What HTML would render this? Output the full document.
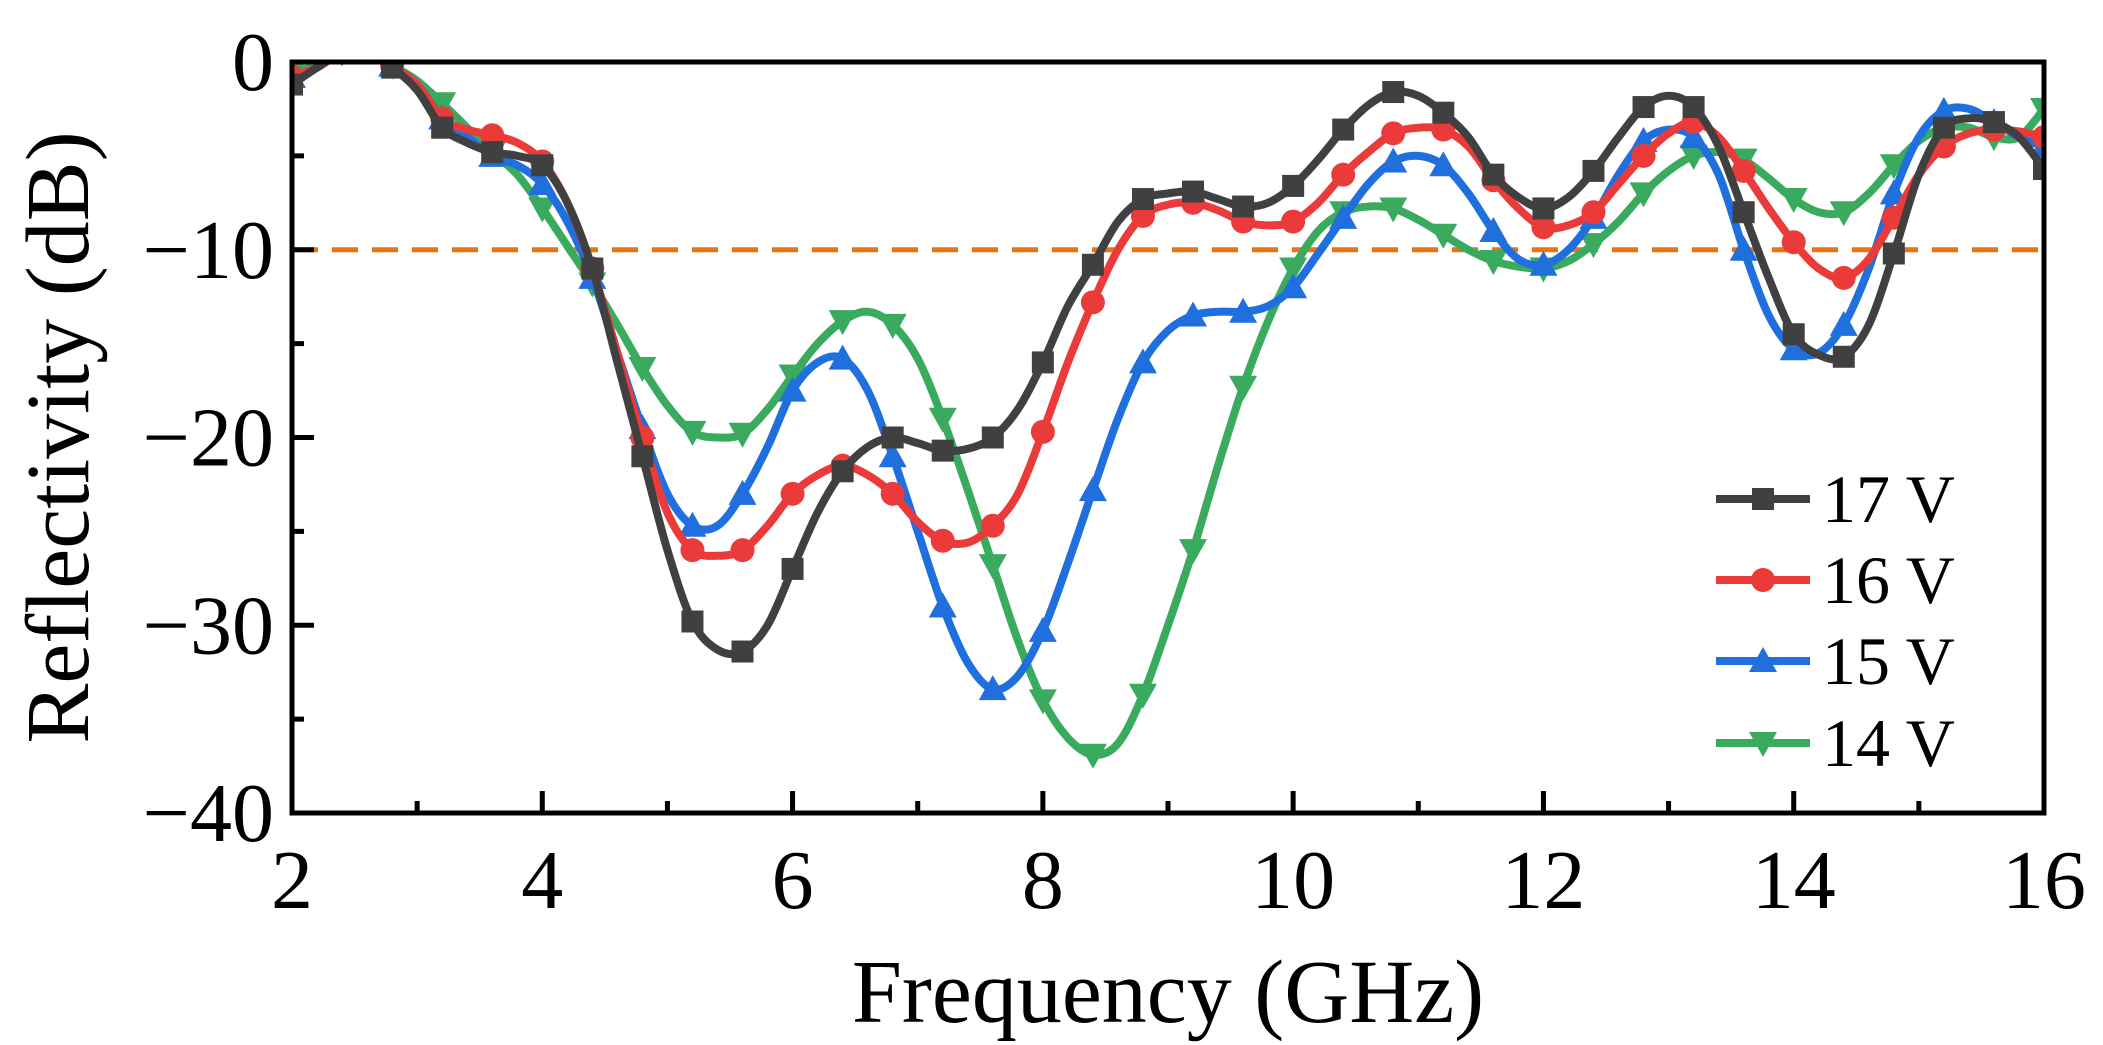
<!DOCTYPE html>
<html><head><meta charset="utf-8"><style>
html,body{margin:0;padding:0;background:#fff;}
svg{display:block;font-family:"Liberation Serif",serif;}
</style></head><body>
<svg id="chart" width="2103" height="1045" viewBox="0 0 2103 1045" xmlns="http://www.w3.org/2000/svg">
<defs><clipPath id="clip"><rect x="292" y="62" width="1752" height="751"/></clipPath></defs>
<g id="plot" clip-path="url(#clip)"></g>
<g id="axes"></g>
<g id="legend"></g>
</svg>
<script>
const freqs = [2.0,2.2,2.4,2.6,2.8,3.0,3.2,3.4,3.6,3.8,4.0,4.2,4.4,4.6,4.8,5.0,5.2,5.4,5.6,5.8,6.0,6.2,6.4,6.6,6.8,7.0,7.2,7.4,7.6,7.8,8.0,8.2,8.4,8.6,8.8,9.0,9.2,9.4,9.6,9.8,10.0,10.2,10.4,10.6,10.8,11.0,11.2,11.4,11.6,11.8,12.0,12.2,12.4,12.6,12.8,13.0,13.2,13.4,13.6,13.8,14.0,14.2,14.4,14.6,14.8,15.0,15.2,15.4,15.6,15.8,16.0];
const v17 = [-1.2,-0.3,0.5,0.5,-0.3,-1.5,-3.5,-4.3,-4.8,-5,-5.5,-7.5,-11,-16,-21,-26,-29.8,-31.3,-31.4,-30,-27,-24,-21.8,-20.5,-20,-20.3,-20.7,-20.6,-20,-18.5,-16,-13,-10.8,-8.5,-7.3,-7,-6.9,-7.3,-7.7,-7.5,-6.6,-5.2,-3.6,-2.3,-1.6,-1.8,-2.7,-4,-6,-7.2,-7.8,-7.2,-5.8,-4,-2.4,-1.8,-2.4,-4.5,-8,-11.5,-14.5,-15.6,-15.7,-14,-10.2,-6,-3.5,-3,-3.2,-4,-5.7];
const v16 = [-0.8,-0.3,0.5,0.5,-0.2,-1.2,-3,-3.6,-3.9,-4.3,-5.3,-7.5,-11,-15.5,-20,-24,-26,-26.3,-26,-24.7,-23,-22,-21.5,-22,-23,-24.5,-25.5,-25.6,-24.7,-23,-19.7,-16,-12.8,-10,-8.2,-7.6,-7.5,-7.9,-8.5,-8.7,-8.5,-7.5,-6,-4.8,-3.8,-3.5,-3.6,-4.5,-6.3,-7.8,-8.8,-8.7,-8,-6.5,-5,-3.8,-3.2,-4,-5.8,-7.8,-9.6,-11,-11.5,-10.5,-8.3,-6,-4.5,-3.8,-3.6,-3.7,-4];
const v15 = [-0.8,-0.3,0.5,0.5,-0.2,-1.2,-3,-4,-5,-5.5,-6.5,-8.5,-11.5,-15.5,-19.5,-23,-24.7,-24.7,-23,-20.5,-17.5,-16,-15.8,-17.5,-21,-25,-29,-32,-33.4,-32.7,-30.3,-26.7,-22.8,-19,-16,-14.3,-13.5,-13.3,-13.3,-13,-12,-10.2,-8.3,-6.5,-5.3,-5,-5.5,-7,-9,-10.5,-10.8,-10,-8.3,-6,-4.2,-3.6,-4,-6,-10,-13.5,-15.3,-15.5,-14,-11,-7,-4,-2.6,-2.5,-3.2,-4,-4.5];
const v14 = [-0.5,-0.2,0.5,0.5,-0.2,-1,-2.2,-3.5,-4.8,-6,-7.8,-9.8,-11.8,-14,-16.3,-18.3,-19.7,-20,-19.8,-18.5,-16.7,-15,-13.8,-13.3,-14,-15.8,-19,-22.8,-26.8,-30.8,-34,-36,-36.9,-36.3,-33.7,-30,-26,-21.5,-17.3,-13.8,-11,-9,-8,-7.7,-7.8,-8.4,-9.2,-10,-10.6,-10.9,-11,-10.6,-9.7,-8.5,-7,-5.8,-5,-4.8,-5.2,-6.2,-7.3,-8,-8,-7,-5.5,-4.2,-3.5,-3.5,-4,-4,-2.5];
const xTicks = [2,4,6,8,10,12,14,16];
const yTicks = [0,-10,-20,-30,-40];
const seriesNames = ["17 V","16 V","15 V","14 V"];
const threshold = -10;

const NS="http://www.w3.org/2000/svg";
const X0=292,X1=2044,Y0=62,Y1=813;
const xs=f=>X0+(f-2)/(16-2)*(X1-X0);
const ys=d=>Y0+(0-d)/(40)*(Y1-Y0);
function mk(tag,attrs,parent){const e=document.createElementNS(NS,tag);for(const k in attrs)e.setAttribute(k,attrs[k]);parent.appendChild(e);return e;}
const plot=document.getElementById('plot'),axes=document.getElementById('axes'),legend=document.getElementById('legend');

function smooth(pts){let d=`M${pts[0][0]},${pts[0][1]}`;for(let i=0;i<pts.length-1;i++){const p0=pts[Math.max(0,i-1)],p1=pts[i],p2=pts[i+1],p3=pts[Math.min(pts.length-1,i+2)];
d+=` C${p1[0]+(p2[0]-p0[0])/6},${p1[1]+(p2[1]-p0[1])/6} ${p2[0]-(p3[0]-p1[0])/6},${p2[1]-(p3[1]-p1[1])/6} ${p2[0]},${p2[1]}`;}return d;}
function marker(type,x,y,color,parent){let e;
if(type==='sq'){e=mk('rect',{x:x-11,y:y-11,width:22,height:22,fill:color},parent);}
else if(type==='ci'){e=mk('circle',{cx:x,cy:y,r:12,fill:color},parent);}
else if(type==='up'){e=mk('polygon',{points:`${x},${y-14} ${x+14},${y+11} ${x-14},${y+11}`,fill:color},parent);}
else{e=mk('polygon',{points:`${x},${y+14} ${x+14},${y-11} ${x-14},${y-11}`,fill:color},parent);}
return e;}

const th=mk('line',{x1:X0,x2:X1,y1:ys(threshold),y2:ys(threshold),stroke:'#ea7412','stroke-width':5,'stroke-dasharray':'26,14'},plot);



const series=[{v:v17,c:'#404040',m:'sq',n:'17v'},{v:v16,c:'#ea3a3a',m:'ci',n:'16v'},{v:v15,c:'#1f6fde',m:'up',n:'15v'},{v:v14,c:'#3aaa5e',m:'dn',n:'14v'}];
series.slice().reverse().forEach(s=>{
  const g=mk('g',{},plot);
  
  
  const pts=freqs.map((f,i)=>[xs(f),ys(s.v[i])]);
  const p=mk('path',{d:smooth(pts),fill:'none',stroke:s.c,'stroke-width':8,'stroke-linejoin':'round'},g);
  
  
  freqs.forEach((f,i)=>{if(i%2===0){const m=marker(s.m,xs(f),ys(s.v[i]),s.c,g);
    
    }});
});

const fr=mk('rect',{x:X0,y:Y0,width:X1-X0,height:Y1-Y0,fill:'none',stroke:'#000','stroke-width':5},axes);


xTicks.forEach((t,i)=>{
  const tk=mk('line',{x1:xs(t),x2:xs(t),y1:Y1,y2:Y1-22,stroke:'#000','stroke-width':5},axes);
  
  
  if(i<xTicks.length-1){const mt=mk('line',{x1:xs(t+1),x2:xs(t+1),y1:Y1,y2:Y1-12,stroke:'#000','stroke-width':5},axes);
    
    }
  const tl=mk('text',{x:xs(t),y:Y1+95,'text-anchor':'middle','font-size':84,fill:'#000'},axes);
  tl.textContent=t;
  
  
});
yTicks.forEach((t,i)=>{
  const tk=mk('line',{x1:X0,x2:X0+22,y1:ys(t),y2:ys(t),stroke:'#000','stroke-width':5},axes);
  
  
  if(i<yTicks.length-1){const mt=mk('line',{x1:X0,x2:X0+12,y1:ys(t-5),y2:ys(t-5),stroke:'#000','stroke-width':5},axes);
    
    }
  const tl=mk('text',{x:X0-18,y:ys(t)+28,'text-anchor':'end','font-size':84,fill:'#000'},axes);
  tl.textContent=t===0?'0':'\u2212'+Math.abs(t);
  
  
});
const xt=mk('text',{x:(X0+X1)/2,y:1022,'text-anchor':'middle','font-size':90,fill:'#000'},axes);
xt.textContent='Frequency (GHz)';


const yt=mk('text',{x:0,y:0,'text-anchor':'middle','font-size':90,fill:'#000',transform:`translate(88,${(Y0+Y1)/2}) rotate(-90)`},axes);
yt.textContent='Reflectivity (dB)';



const rowsY=[499,580,661,743];
series.forEach((s,i)=>{
  const g=mk('g',{},legend);
  
  
  mk('line',{x1:1716,x2:1810,y1:rowsY[i],y2:rowsY[i],stroke:s.c,'stroke-width':8},g);
  marker(s.m,1763,rowsY[i],s.c,g);
  const t=mk('text',{x:1822,y:rowsY[i]+23,'font-size':68,fill:'#000'},g);
  t.textContent=seriesNames[i];
});
</script>
</body></html>
